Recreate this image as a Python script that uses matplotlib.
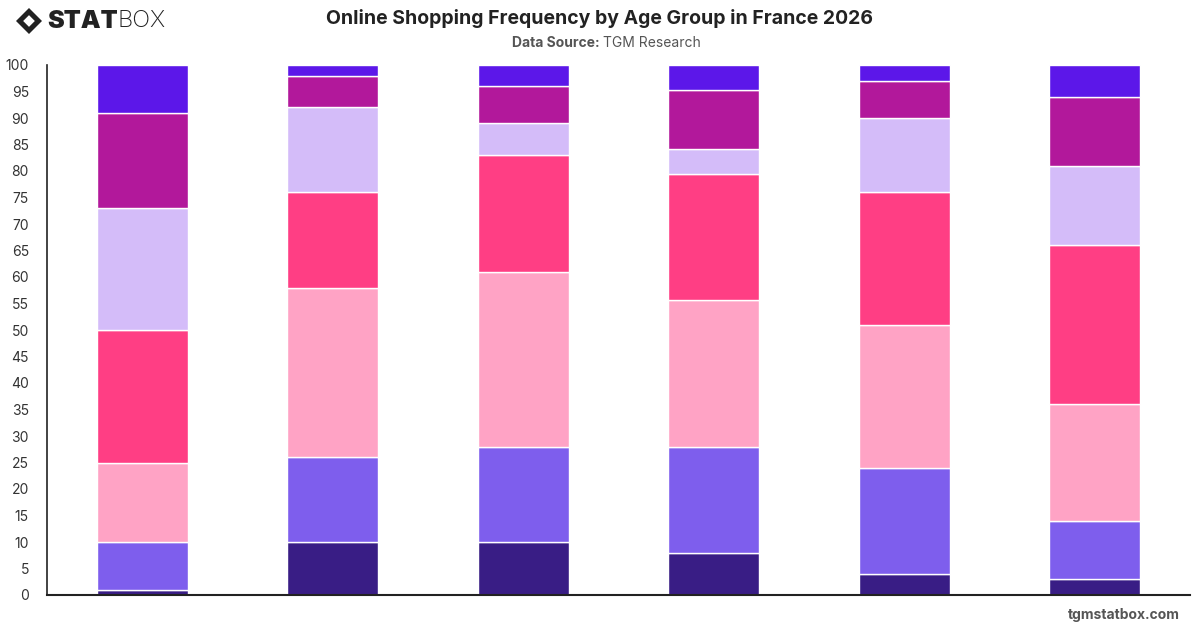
import matplotlib
matplotlib.use("Agg")
import matplotlib.pyplot as plt
import numpy as np
from matplotlib.patches import Polygon

plt.rcParams['font.family'] = ['Inter', 'DejaVu Sans']

age_groups = ["18-24", "25-34", "35-44", "45-54", "55-64", "65+"]
series_names = ["Daily", "Several times a week", "Weekly", "Several times a month",
                "Monthly", "Rarely", "Never"]
daily = [1, 10, 10, 8, 4, 3]
several_week = [9, 16, 18, 20, 20, 11]
weekly = [15, 32, 33, 27.7, 27, 22]
several_month = [25, 18, 22, 23.7, 25, 30]
monthly = [23, 16, 6, 4.8, 14, 15]
rarely = [18, 6, 7, 11, 7, 13]
never = [9, 2, 4, 4.8, 3, 6]
y_ticks = list(range(0, 101, 5))

colors = ["#391d85", "#7e5eed", "#ffa3c5", "#ff3e84", "#d4bcf9", "#b2189b", "#5c17e9"]
series = [daily, several_week, weekly, several_month, monthly, rarely, never]

fig = plt.figure(figsize=(12, 6.28), dpi=100)
ax = fig.add_axes([47/1200, 33/628, (1190-47)/1200, (595-65)/628])

x = np.arange(len(age_groups))
bottom = np.zeros(len(age_groups))
for vals, col, name in zip(series, colors, series_names):
    ax.bar(x, vals, bottom=bottom, width=0.48, color=col, edgecolor="white",
           linewidth=1.0, label=name, zorder=2)
    bottom += np.array(vals)

ax.set_xlim(-0.5, 5.5)
ax.set_ylim(0, 100)
ax.set_yticks(y_ticks)
ax.set_yticklabels([str(t) for t in y_ticks], fontsize=10, color="#333333")
ax.set_xticks(x)
ax.set_xticklabels([])
ax.tick_params(axis='x', length=0)
ax.tick_params(axis='y', length=0, pad=13)
for s in ["top", "right"]:
    ax.spines[s].set_visible(False)
ax.spines["left"].set_color("#222222")
ax.spines["bottom"].set_color("#222222")
ax.spines["left"].set_linewidth(1.2)
ax.spines["bottom"].set_linewidth(1.5)

fig.text(0.5, 1 - 18/628, "Online Shopping Frequency by Age Group in France 2026",
         ha="center", va="center", fontsize=14, fontweight="bold", color="#222222")
fig.text(0.5, 1 - 43/628, "Data Source:", ha="right", va="center", fontsize=10,
         fontweight="bold", color="#555555")
fig.text(0.5 + 3/1200, 1 - 43/628, "TGM Research", ha="left", va="center", fontsize=10,
         color="#555555")
fig.text(1180/1200, 1 - 615/628, "tgmstatbox.com", ha="right", va="center", fontsize=10,
         fontweight="bold", color="#555555")

# logo
cx, cy, r = 29/1200, 1 - 21/628, 13/1200
ry = 13/628
outer = Polygon([[cx - r, cy], [cx, cy + ry], [cx + r, cy], [cx, cy - ry]],
                closed=True, transform=fig.transFigure, facecolor="#222222", edgecolor="none")
inner = Polygon([[cx - r*0.45, cy], [cx, cy + ry*0.45], [cx + r*0.45, cy], [cx, cy - ry*0.45]],
                closed=True, transform=fig.transFigure, facecolor="white", edgecolor="none")
fig.patches.extend([outer, inner])
t = fig.text(47/1200, 1 - 21/628, "STAT", ha="left", va="center", fontsize=18,
             fontweight="black", color="#222222")
fig.canvas.draw()
bb = t.get_window_extent(renderer=fig.canvas.get_renderer())
fig.text(bb.x1 / 1200, 1 - 21/628, "BOX", ha="left", va="center", fontsize=17,
         fontweight="light", color="#222222")

fig.savefig("out.png", dpi=100, facecolor="white")
